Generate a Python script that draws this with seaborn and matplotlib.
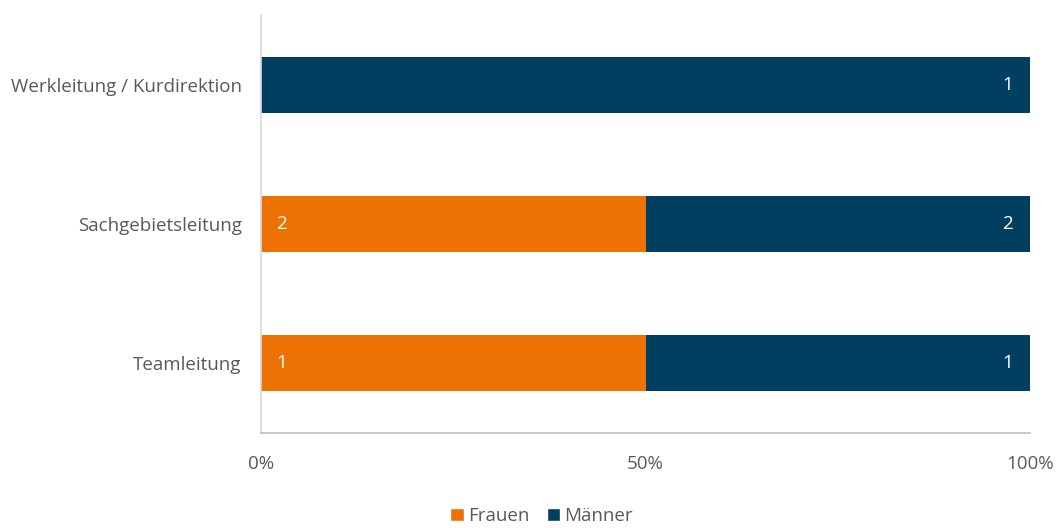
import matplotlib
matplotlib.use("Agg")
import matplotlib.pyplot as plt
from matplotlib.patches import Patch
import seaborn as sns
import pandas as pd

categories = ["Werkleitung / Kurdirektion", "Sachgebietsleitung", "Teamleitung"]
frauen = [0, 2, 1]
maenner = [1, 2, 1]
x_ticks = [0, 50, 100]
x_tick_labels = ["0%", "50%", "100%"]

ORANGE = "#EE7203"
NAVY = "#003F5F"
TEXT = "#595959"
FS = 13.5

sns.set_theme(style="white")
plt.rcParams["font.family"] = ["Open Sans", "DejaVu Sans"]

df = pd.DataFrame({"Kategorie": categories, "Frauen": frauen, "Männer": maenner})
df["Gesamt"] = df["Frauen"] + df["Männer"]
df["Frauen_pct"] = df["Frauen"] / df["Gesamt"] * 100
df["Total_pct"] = 100.0

fig = plt.figure(figsize=(10.56, 5.28), dpi=100)
ax = fig.add_axes([0.2472, 0.1799, 0.9754 - 0.2472, 0.9716 - 0.1799])

# Männer fill the full width; the Frauen share is drawn over it from the left
sns.barplot(data=df, y="Kategorie", x="Total_pct", color=NAVY, width=0.4,
            orient="h", ax=ax, saturation=1, linewidth=0)
sns.barplot(data=df, y="Kategorie", x="Frauen_pct", color=ORANGE, width=0.4,
            orient="h", ax=ax, saturation=1, linewidth=0)

for i, row in df.iterrows():
    if row["Frauen"] > 0:
        ax.text(2.0, i, f"{row['Frauen']}", color="white", fontsize=FS,
                va="center", ha="left")
    if row["Männer"] > 0:
        ax.text(97.8, i, f"{row['Männer']}", color="white", fontsize=FS,
                va="center", ha="right")

ax.set_xlim(0, 100)
ax.set_ylim(2.5, -0.5)
ax.set_xticks(x_ticks)
ax.set_xticklabels(x_tick_labels)
ax.set_xlabel("")
ax.set_ylabel("")
ax.tick_params(axis="both", length=0, labelsize=FS, labelcolor=TEXT)
ax.tick_params(axis="x", pad=16)
ax.tick_params(axis="y", pad=14)

for side in ["top", "right"]:
    ax.spines[side].set_visible(False)
ax.spines["left"].set_color("#D9D9D9")
ax.spines["bottom"].set_color("#BFBFBF")
ax.spines["left"].set_linewidth(1.2)
ax.spines["bottom"].set_linewidth(1.2)

handles = [Patch(facecolor=ORANGE, label="Frauen"),
           Patch(facecolor=NAVY, label="Männer")]
fig.legend(handles=handles, loc="center", bbox_to_anchor=(0.513, 0.022),
           ncol=2, frameon=False, fontsize=FS, labelcolor=TEXT,
           handlelength=0.7, handleheight=0.7, handletextpad=0.25,
           columnspacing=0.9)

fig.savefig("out.png", dpi=100)
